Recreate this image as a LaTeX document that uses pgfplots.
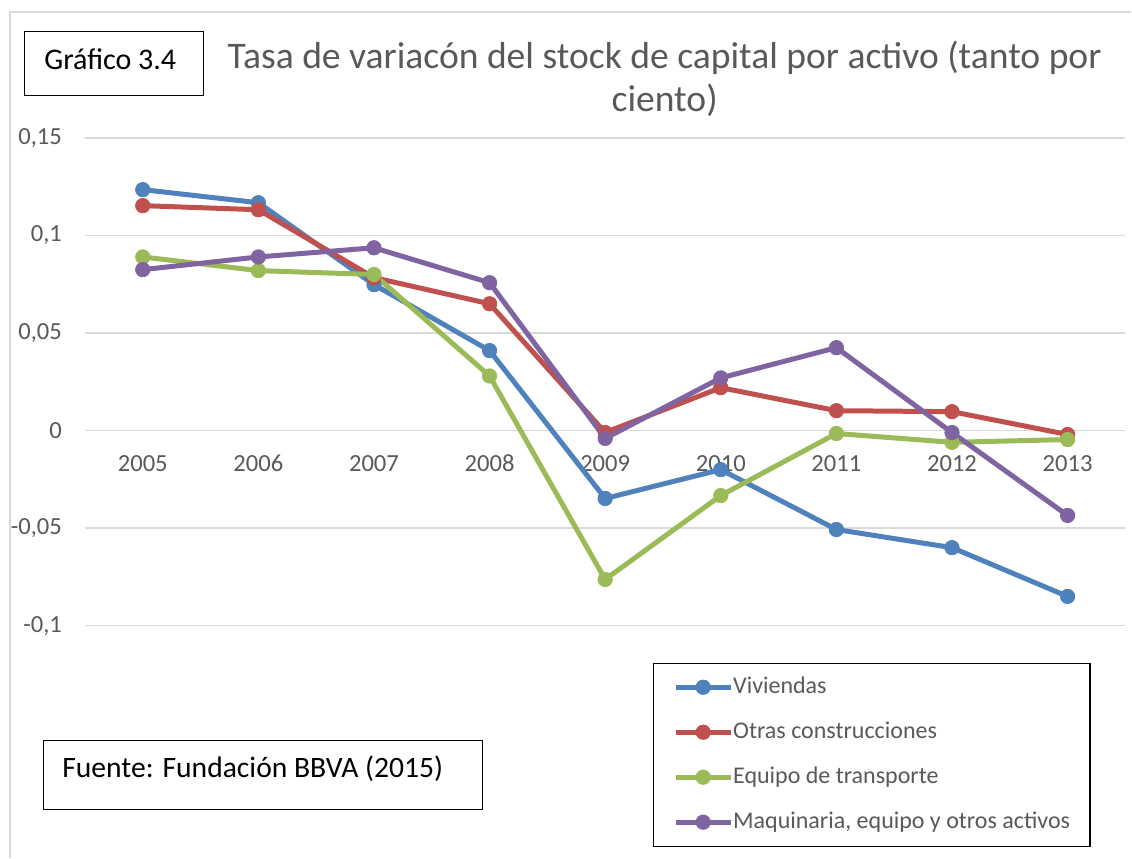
\documentclass[border=0pt]{standalone}
\usepackage{pgfplots}
\pgfplotsset{compat=1.18}
\usepackage{fontspec}
\setmainfont{Carlito}
\definecolor{cblue}{HTML}{4F81BD}
\definecolor{cred}{HTML}{C0504D}
\definecolor{cgreen}{HTML}{9BBB59}
\definecolor{cpurple}{HTML}{8064A2}
\definecolor{textgray}{HTML}{595959}
\definecolor{gridgray}{HTML}{D9D9D9}

\pgfplotstableread{
x viv otras equipo maq
0  0.1235  0.1153  0.0890  0.0825
1  0.1168  0.1132  0.0820  0.0890
2  0.0748  0.0784  0.0800  0.0937
3  0.0410  0.0650  0.0280  0.0758
4 -0.0348 -0.0010 -0.0763 -0.0040
5 -0.0200  0.0220 -0.0333  0.0270
6 -0.0507  0.0102 -0.0015  0.0425
7 -0.0600  0.0097 -0.0060 -0.0010
8 -0.0850 -0.0020 -0.0046 -0.0435
}\datatable

\begin{document}
\begin{tikzpicture}
\path (0,0) rectangle (566pt,-429pt);
\begin{scope}[x=0.5pt,y=-0.5pt]
  \draw[gridgray, line width=0.6pt] (10,858) -- (10,12) -- (1132,12);
  \node[draw=black, line width=0.6pt, anchor=north west, minimum width=89.5pt,
        minimum height=32pt, inner sep=0pt] at (24,31) {};
  \node[anchor=base west, inner sep=0pt, font=\fontsize{15}{18}\selectfont]
        at (44,70) {Gráfico 3.4};
  \node[anchor=base, inner sep=0pt, text=textgray, font=\fontsize{18.8}{21}\selectfont]
        at (665,69) {Tasa de variacón del stock de capital por activo (tanto por};
  \node[anchor=base, inner sep=0pt, text=textgray, font=\fontsize{18.8}{21}\selectfont]
        at (665,112) {ciento)};
  \node[draw=black, line width=0.6pt, anchor=north west, minimum width=219.5pt,
        minimum height=34.5pt, inner sep=0pt] at (43,740) {};
  \node[anchor=base west, inner sep=0pt, font=\fontsize{14.8}{17}\selectfont] at (62,778)
        {Fuente: Fundación BBVA (2015)};
\end{scope}

\begin{axis}[
  at={(42.5pt,-69pt)}, anchor=north west,
  scale only axis, width=520.5pt, height=244pt,
  xmin=-0.5, xmax=8.5, ymin=-0.1, ymax=0.15,
  axis x line=middle, axis y line=left,
  axis line style={draw=none, -},
  major tick length=0pt,
  xtick={0,...,8},
  xticklabels={2005,2006,2007,2008,2009,2010,2011,2012,2013},
  ytick={-0.1,-0.05,0,0.05,0.1,0.15},
  yticklabels={{-0,1},{-0,05},0,{0,05},{0,1},{0,15}},
  ymajorgrids, grid style={gridgray, line width=0.7pt},
  tick label style={text=textgray, font=\fontsize{12.3}{14}\selectfont},
  xticklabel style={anchor=north, text height=8.5pt, text depth=0pt, inner sep=0pt, yshift=-12pt},
  yticklabel style={anchor=east, xshift=-8pt},
  clip=false,
  every axis plot/.append style={line width=2.5pt, mark=*, mark size=3.6pt, line join=round},
  legend style={
    at={(0.5456,-0.0758)}, anchor=north west,
    draw=black, line width=0.6pt,
    font=\fontsize{12}{14}\selectfont, text=textgray,
    inner xsep=10pt, inner ysep=6pt,
    row sep=10.5pt,
    nodes={inner sep=0pt, text height=9pt, text depth=3pt},
    cells={anchor=west},
  },
  legend image code/.code={
    \draw[#1, mark repeat=2, mark phase=2] plot coordinates {(0pt,0pt) (13.75pt,0pt) (27.5pt,0pt)};
  },
]
\addplot[cblue, mark options={fill=cblue, line width=0.4pt}] table[x=x, y=viv] {\datatable};
\addlegendentry{Viviendas}
\addplot[cred, mark options={fill=cred, line width=0.4pt}] table[x=x, y=otras] {\datatable};
\addlegendentry{Otras construcciones}
\addplot[cgreen, mark options={fill=cgreen, line width=0.4pt}] table[x=x, y=equipo] {\datatable};
\addlegendentry{Equipo de transporte}
\addplot[cpurple, mark options={fill=cpurple, line width=0.4pt}] table[x=x, y=maq] {\datatable};
\addlegendentry{Maquinaria, equipo y otros activos}
\end{axis}
\end{tikzpicture}
\end{document}
